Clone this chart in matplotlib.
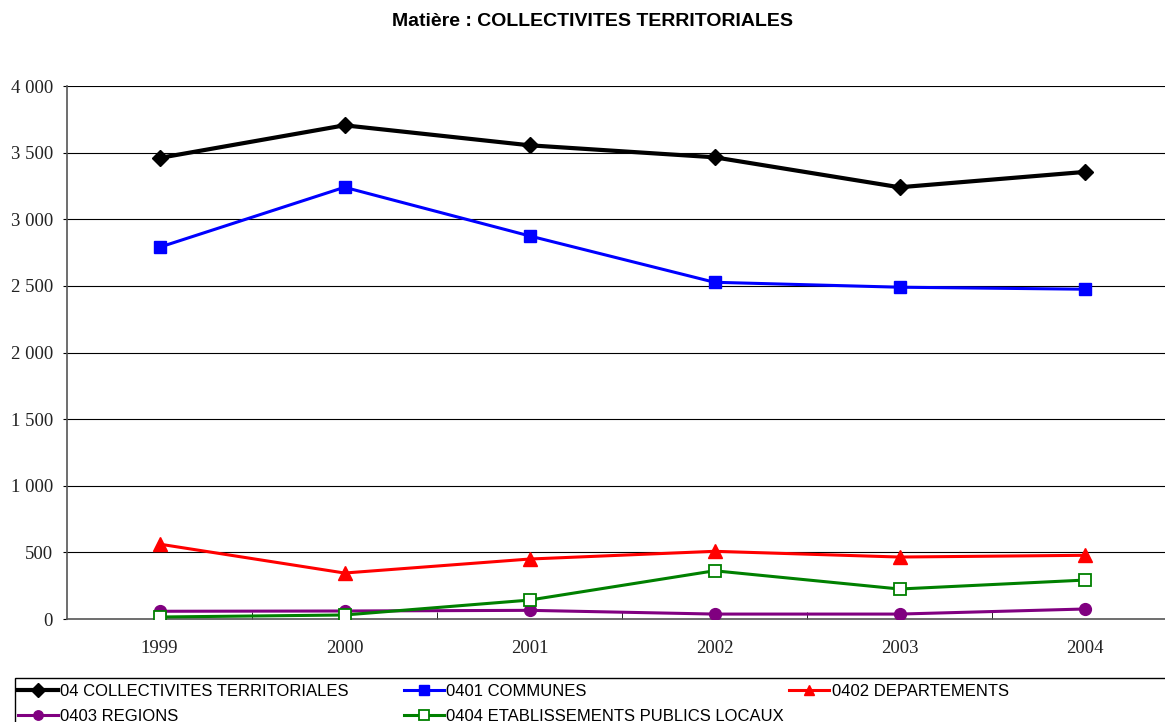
import numpy as np
import matplotlib.pyplot as plt
from matplotlib.patches import Rectangle
from matplotlib.ticker import FuncFormatter

years = ['1999', '2000', '2001', '2002', '2003', '2004']
collectivites = [3460, 3705, 3555, 3465, 3240, 3355]
communes = [2790, 3240, 2875, 2527, 2490, 2475]
departements = [562, 345, 450, 508, 465, 478]
regions = [58, 60, 65, 37, 37, 75]
etablissements = [15, 30, 142, 362, 225, 292]

labels = ['04 COLLECTIVITES TERRITORIALES', '0401 COMMUNES', '0402 DEPARTEMENTS',
          '0403 REGIONS', '0404 ETABLISSEMENTS PUBLICS LOCAUX']

W, H = 1165, 722
fig = plt.figure(figsize=(W / 100, H / 100), dpi=100)
ax = fig.add_axes([67 / W, (H - 619) / H, (1177 - 67) / W, (619 - 86) / H])

x = np.arange(len(years))
styles = [
    (collectivites, dict(color='black', lw=3.0, marker='D', ms=8.5, mfc='black', mec='black')),
    (communes, dict(color='#0000ff', lw=2.2, marker='s', ms=8.5, mfc='#0000ff', mec='#0000ff')),
    (departements, dict(color='#ff0000', lw=2.2, marker='^', ms=9.5, mfc='#ff0000', mec='#ff0000')),
    (regions, dict(color='#800080', lw=2.2, marker='o', ms=8.5, mfc='#800080', mec='#800080')),
    (etablissements, dict(color='#008000', lw=2.2, marker='s', ms=8.5, mfc='white', mec='#008000', mew=1.3)),
]
handles = []
for (vals, st), lab in zip(styles, labels):
    h, = ax.plot(x, vals, label=lab, zorder=3, **st)
    handles.append(h)

ax.set_xlim(-0.5, 5.5)
ax.set_ylim(0, 4000)
ax.set_yticks(np.arange(0, 4001, 500))
ax.yaxis.set_major_formatter(FuncFormatter(lambda v, p: f'{int(v):,}'.replace(',', ' ')))
ax.set_xticks(x)
ax.set_xticklabels(years)
ax.set_xticks(np.arange(0.5, 5.5, 1), minor=True)
ax.tick_params(axis='x', which='major', length=0, pad=15)
ax.tick_params(axis='x', which='minor', direction='in', length=5, color='black')
ax.tick_params(axis='y', direction='out', length=3, pad=7)
for t in ax.get_xticklabels() + ax.get_yticklabels():
    t.set_family('Liberation Serif')
    t.set_fontsize(13.5)
    t.set_color('#222222')

for v in np.arange(500, 4001, 500):
    ax.axhline(v, color='black', lw=0.8, zorder=1)
for s in ['top', 'right']:
    ax.spines[s].set_visible(False)
for s in ['left', 'bottom']:
    ax.spines[s].set_color('#555555')
    ax.spines[s].set_linewidth(1.2)

fig.text(593 / W, 1 - 22 / H, 'Matière : COLLECTIVITES TERRITORIALES', ha='center', va='center',
         family='Liberation Sans', fontweight='bold', fontsize=14)

# legend box, row-major like the original
fig.add_artist(Rectangle((15 / W, -0.05), 1.2, 0.05 + (H - 678) / H, transform=fig.transFigure,
                         fill=False, ec='black', lw=1.0))
cols = [(18, [0, 3]), (404, [1, 4]), (789, [2])]
for xpos, idx in cols:
    fig.legend([handles[i] for i in idx], [labels[i] for i in idx], loc='upper left',
               bbox_to_anchor=(xpos / W, 1 - 684 / H), frameon=False, borderpad=0,
               borderaxespad=0, handlelength=2.4, handletextpad=0.15, labelspacing=0.6,
               prop={'family': 'Liberation Sans', 'size': 12}, numpoints=1, markerscale=0.8)

fig.savefig('out.png', dpi=100)
